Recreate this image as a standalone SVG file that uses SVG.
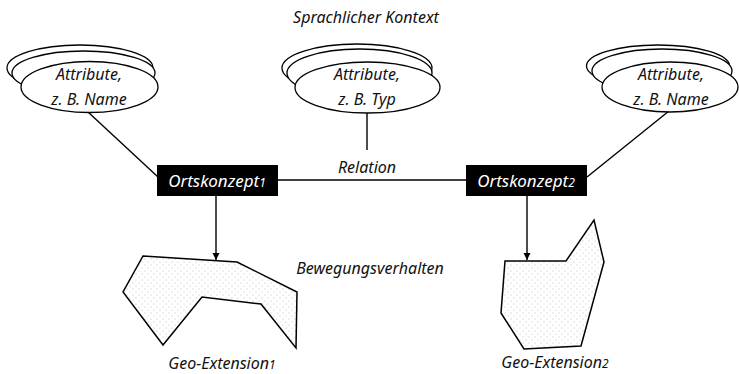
<svg xmlns="http://www.w3.org/2000/svg" width="739" height="374" viewBox="0 0 739 374">
  <style>
    .lbl { font-family: "Noto Sans", "Liberation Sans", sans-serif; font-style: italic; font-size: 16px; fill: #111; text-anchor: middle; }
    .box-lbl { font-family: "Noto Sans", "Liberation Sans", sans-serif; font-style: italic; font-size: 17px; fill: #fff; text-anchor: middle; }
    .sub { font-size: 12px; }
    .ell { fill: #fff; stroke: #000; stroke-width: 1.3; }
    .box { fill: #000; }
    .conn { stroke: #000; stroke-width: 1.4; fill: none; }
    .area { fill: url(#stipple); stroke: #000; stroke-width: 1.5; stroke-linejoin: miter; }
  </style>
  <defs>
    <pattern id="stipple" width="6" height="6" patternUnits="userSpaceOnUse">
      <rect width="6" height="6" fill="#fff"/>
      <circle cx="1" cy="1" r="0.5" fill="#aaa"/>
      <circle cx="4" cy="4" r="0.5" fill="#aaa"/>
    </pattern>
    <marker id="arrow" markerWidth="8" markerHeight="8" refX="7" refY="4" orient="auto" markerUnits="userSpaceOnUse">
      <path d="M0,0.5 L7,4 L0,7.5 Z" fill="#000"/>
    </marker>
  </defs>

  <rect width="739" height="374" fill="#fff"/>

  <!-- connectors -->
  <g id="connectors">
    <line class="conn" x1="88" y1="112" x2="158" y2="177"/>
    <line class="conn" x1="367" y1="113" x2="367" y2="150"/>
    <line class="conn" x1="278" y1="180" x2="466" y2="180"/>
    <line class="conn" x1="669" y1="111" x2="587" y2="177"/>
    <line class="conn" x1="216" y1="196" x2="216" y2="260" marker-end="url(#arrow)"/>
    <line class="conn" x1="527" y1="196" x2="527" y2="260" marker-end="url(#arrow)"/>
  </g>

  <!-- attribute stacks -->
  <g id="attr-left">
    <ellipse class="ell" cx="80" cy="68" rx="73" ry="23"/>
    <ellipse class="ell" cx="83.5" cy="73" rx="71.5" ry="22"/>
    <ellipse class="ell" cx="89.5" cy="87" rx="68.5" ry="25.5"/>
    <text class="lbl" x="89" y="80">Attribute,</text>
    <text class="lbl" x="89" y="105">z. B. Name</text>
  </g>

  <g id="attr-middle">
    <ellipse class="ell" cx="357" cy="68" rx="75" ry="24"/>
    <ellipse class="ell" cx="359.5" cy="73" rx="72.5" ry="24"/>
    <ellipse class="ell" cx="367.5" cy="87.5" rx="72.5" ry="25.5"/>
    <text class="lbl" x="367" y="80">Attribute,</text>
    <text class="lbl" x="367" y="105">z. B. Typ</text>
  </g>

  <g id="attr-right">
    <ellipse class="ell" cx="658" cy="66" rx="71.5" ry="21"/>
    <ellipse class="ell" cx="662" cy="71" rx="70" ry="22"/>
    <ellipse class="ell" cx="670" cy="87" rx="68" ry="25"/>
    <text class="lbl" x="671" y="80">Attribute,</text>
    <text class="lbl" x="671" y="105">z. B. Name</text>
  </g>

  <!-- place concepts -->
  <g id="concept-1">
    <rect class="box" x="157" y="165" width="121" height="31"/>
    <text class="box-lbl" x="217" y="187">Ortskonzept<tspan class="sub">1</tspan></text>
  </g>

  <g id="concept-2">
    <rect class="box" x="466" y="165" width="121" height="31"/>
    <text class="box-lbl" x="526" y="187">Ortskonzept<tspan class="sub">2</tspan></text>
  </g>

  <!-- geo extensions -->
  <g id="geo-1">
    <polygon class="area" points="143,256 237,262 297,292 296,348 261,304 202,297 163,345 123,292"/>
    <text class="lbl" x="222" y="369">Geo-Extension<tspan class="sub">1</tspan></text>
  </g>

  <g id="geo-2">
    <polygon class="area" points="505,261 566,261 594,220 604,262 581,346 524,349 501,313"/>
    <text class="lbl" x="555" y="368">Geo-Extension<tspan class="sub">2</tspan></text>
  </g>

  <!-- free labels -->
  <text class="lbl" x="366" y="23">Sprachlicher Kontext</text>
  <text class="lbl" x="367" y="173">Relation</text>
  <text class="lbl" x="370" y="274">Bewegungsverhalten</text>
</svg>
